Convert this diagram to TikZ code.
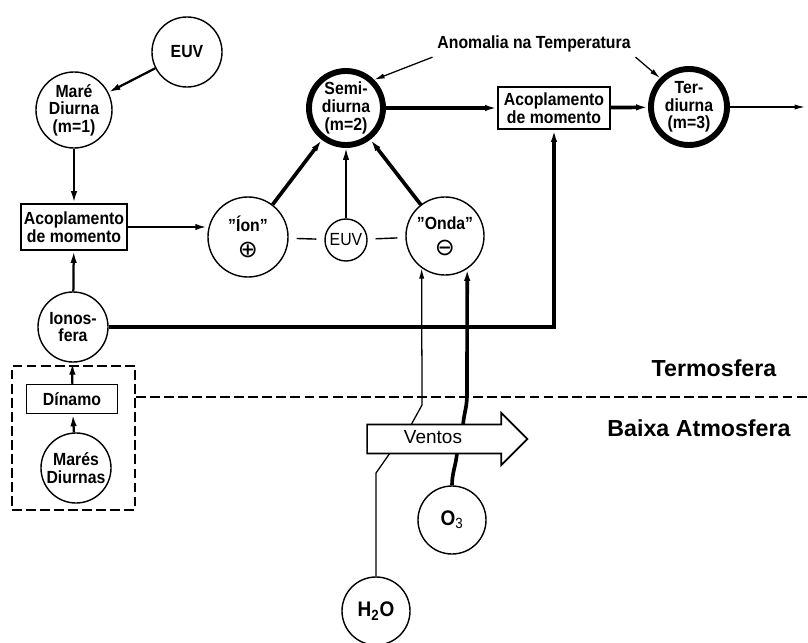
\documentclass[tikz,border=0pt]{standalone}
\usepackage{fontspec}
\newfontfamily\narrowsf{Liberation Sans}[FakeStretch=0.9,Ligatures=TeX]
\newfontfamily\plainsf{Liberation Sans}[Ligatures=TeX]
\newfontfamily\signsf{DejaVu Sans}
\usetikzlibrary{arrows.meta,shapes.arrows}

\begin{document}
\begin{tikzpicture}[
  x=0.025cm, y=-0.025cm,
  font=\narrowsf\bfseries\fontsize{12.5}{12.5}\selectfont,
  tide/.style={draw, circle, line width=1pt, align=center, inner sep=0pt},
  harm/.style={tide, line width=4.2pt},
  box/.style={draw, line width=1.2pt, align=center, inner sep=2pt},
  arr/.style={-{Latex[length=3mm,width=1.6mm]}, line width=1.6pt},
  thk/.style={arr, line width=2.6pt},
  thn/.style={-{Latex[length=2.6mm,width=1.3mm]}, line width=0.9pt},
  sep/.style={line width=1pt, shorten <=0.2cm, shorten >=0.2cm},
  zone/.style={draw, dash pattern=on 7pt off 3pt, line width=1.1pt},
  layer/.style={font=\plainsf\bfseries\fontsize{16.5}{18}\selectfont}
]
\useasboundingbox (0,0) rectangle (808,643);

% upper part: diurnal tide
\node[tide, minimum size=1.75cm] (euv) at (187,52) {EUV};
\node[tide, minimum size=1.9cm] (mare) at (74,110) {Maré\\Diurna\\(m=1)};
\node[box, minimum width=2.62cm, minimum height=1.15cm] (acop1) at (74,227) {Acoplamento\\de momento};

% semidiurnal sources
\node[tide, minimum size=2cm] (ion) at (248,237) {''Íon''\\[6pt]{\signsf\mdseries\fontsize{17}{17}\selectfont ⊕}};
\node[tide, minimum size=1.05cm] (euvb) at (346,240) {\mdseries EUV};
\node[tide, minimum size=1.95cm] (onda) at (445,236) {''Onda''\\[6pt]{\signsf\mdseries\fontsize{17}{17}\selectfont ⊖}};
\node[harm, minimum size=1.85cm] (semi) at (346,108) {Semi-\\diurna\\(m=2)};
\node[box, minimum width=2.8cm, minimum height=1.05cm] (acop2) at (554,108) {Acoplamento\\de momento};
\node[harm, minimum size=1.9cm] (ter) at (689,107) {Ter-\\diurna\\(m=3)};
\coordinate (out) at (805,107);
\node (anom) at (534,44) {Anomalia na Temperatura};

% lower part
\node[tide, minimum size=1.75cm] (ionos) at (73,327) {Ionos-\\fera};
\node[zone, minimum width=3.075cm, minimum height=3.6cm] (lower) at (73.5,438) {};
\node[box, minimum width=2.27cm, minimum height=0.72cm] (dinamo) at (72,399) {Dínamo};
\node[tide, minimum size=1.75cm] (mares) at (76,468) {Marés\\Diurnas};
\node[tide, minimum size=1.7cm, font=\narrowsf\bfseries\fontsize{15}{16}\selectfont] (h2o) at (376,611) {H\textsubscript{2}O};
\node[tide, minimum size=1.7cm, font=\narrowsf\bfseries\fontsize{15}{16}\selectfont] (o3) at (452,520) {O\textsubscript{\mdseries 3}};
\coordinate (rim) at (808,397);
\node[layer] (termo) at (714,368) {Termosfera};
\node[layer] (baixa) at (699,428) {Baixa Atmosfera};

% connectors
\draw[arr] (euv) -- (mare);
\draw[arr] (mare) -- (acop1);
\draw[arr] (acop1.east) -- (acop1.east -| ion.west);
\draw[arr] (ionos) -- (acop1);
\draw[arr] (dinamo) -- (ionos);
\draw[arr] (mares) -- (dinamo);
\draw[sep] (ion) -- (euvb);
\draw[sep] (euvb) -- (onda);
\draw[thk] (ion) -- (semi);
\draw[thk] (onda) -- (semi);
\draw[arr, line width=1.2pt] (euvb) -- (semi);
\draw[thk] (semi) -- (acop2);
\draw[thk] (acop2) -- (ter);
\draw[thn] (ter) -- (out);
\draw[thn] (anom.south west) -- (semi.north east);
\draw[thn] (anom.south east) -- (ter.north west);
\draw[thk] (ionos.east) -| (acop2.south);
\draw[zone] (lower.east |- rim) -- (rim);
\draw[thn] (h2o.north) -- (376,473) -- (390,453) -- (411,425) -- (422,405) -- (onda.234);
\draw[thk] (o3.north) to[out=90,in=-95] (457,453) -- (463,425) to[out=85,in=-90] (467,395) -- (onda.304);

% winds drawn on top of the tracers
\node[single arrow, draw, line width=1.2pt, fill=white, single arrow head extend=0.29cm,
  inner xsep=0.9cm, inner ysep=0.15cm, text height=0.3cm, text depth=0.08cm,
  font=\plainsf\fontsize{13.5}{14}\selectfont] (ventos) at (440,439) {Ventos\hspace*{0.35cm}};
\end{tikzpicture}
\end{document}
